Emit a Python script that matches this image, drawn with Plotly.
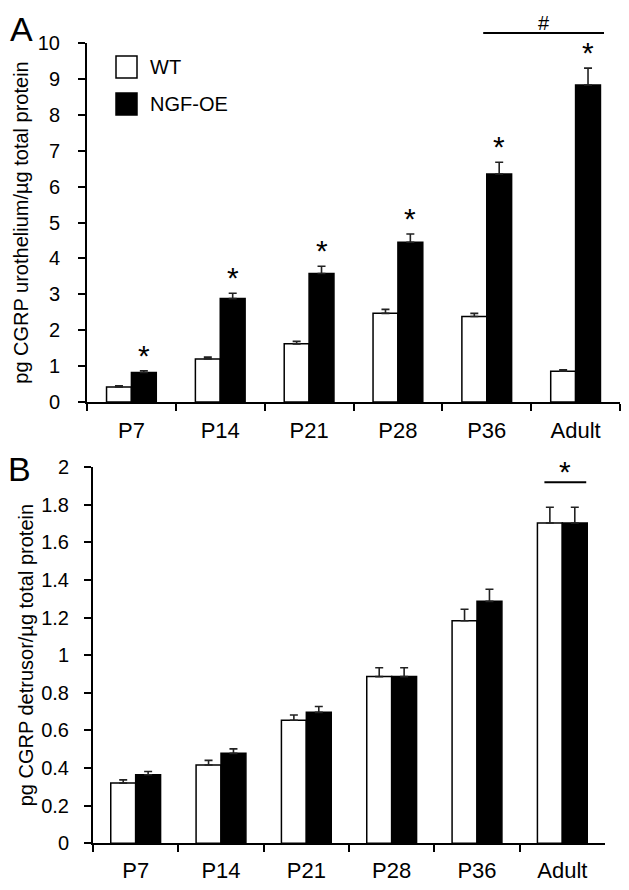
import plotly.graph_objects as go

categories = ["P7", "P14", "P21", "P28", "P36", "Adult"]

# Panel A: pg CGRP urothelium / ug total protein
wt_A = [0.42, 1.20, 1.62, 2.47, 2.38, 0.86]
wt_A_err = [0.03, 0.05, 0.07, 0.11, 0.09, 0.04]
ngf_A = [0.82, 2.88, 3.58, 4.45, 6.35, 8.83]
ngf_A_err = [0.05, 0.15, 0.20, 0.23, 0.33, 0.47]
star_A = [True, True, True, True, True, True]

# Panel B: pg CGRP detrusor / ug total protein
wt_B = [0.32, 0.416, 0.654, 0.886, 1.183, 1.702]
wt_B_err = [0.017, 0.025, 0.028, 0.047, 0.061, 0.084]
ngf_B = [0.364, 0.478, 0.696, 0.886, 1.286, 1.702]
ngf_B_err = [0.018, 0.024, 0.031, 0.047, 0.064, 0.084]

FONT = "Liberation Sans, Arial, Helvetica, sans-serif"
# page has an 8px body margin; size the figure so the page fits the window exactly
OX, OY = 8, 8
W, H = 629 - 2 * OX, 890 - 2 * OY


def px_x(p):
    return (p - OX) / W


def px_y(p):
    return 1 - (p - OY) / H


fig = go.Figure()


def add_pair(wt, wte, ngf, ngfe, bw, xa, ya):
    fig.add_trace(go.Bar(
        x=categories, y=wt, name="WT", width=bw, offset=-bw,
        marker=dict(color="white", line=dict(color="black", width=1.5)),
        error_y=dict(type="data", symmetric=False, array=wte, arrayminus=[0] * len(wte),
                     color="#222", thickness=1.6, width=4),
        xaxis=xa, yaxis=ya, showlegend=False))
    fig.add_trace(go.Bar(
        x=categories, y=ngf, name="NGF-OE", width=bw, offset=0,
        marker=dict(color="black", line=dict(color="black", width=1.5)),
        error_y=dict(type="data", symmetric=False, array=ngfe, arrayminus=[0] * len(ngfe),
                     color="#222", thickness=1.6, width=4),
        xaxis=xa, yaxis=ya, showlegend=False))


bwA = 0.28
bwB = 0.292
add_pair(wt_A, wt_A_err, ngf_A, ngf_A_err, bwA, "x", "y")
add_pair(wt_B, wt_B_err, ngf_B, ngf_B_err, bwB, "x2", "y2")

xdomA = [px_x(87), px_x(620)]
ydomA = [px_y(402), px_y(43)]
xdomB = [px_x(93), px_x(605)]
ydomB = [px_y(843.3), px_y(467)]

common_x = dict(type="category", range=[-0.5, 5.5], tickson="boundaries", ticks="outside",
                ticklen=7, tickwidth=1.5, tickcolor="black", showline=True, linewidth=2,
                linecolor="black", showgrid=False, zeroline=False, automargin=False,
                tickfont=dict(family=FONT, size=22, color="black"))
common_y = dict(ticks="outside", ticklen=7, tickwidth=1.5, tickcolor="black", showline=True,
                linewidth=2, linecolor="black", showgrid=False, zeroline=False, automargin=False,
                tickfont=dict(family=FONT, size=20, color="black"))

fig.update_layout(
    template="none",
    width=W, height=H,
    margin=dict(l=0, r=0, t=0, b=0, pad=0),
    paper_bgcolor="white", plot_bgcolor="white",
    showlegend=False,
    font=dict(family=FONT, color="black"),
    xaxis=dict(domain=xdomA, anchor="y", ticklabelstandoff=8, **common_x),
    yaxis=dict(domain=ydomA, anchor="x", range=[0, 10], dtick=1, ticklabelstandoff=14,
               title=dict(text="pg CGRP urothelium/µg total protein",
                          font=dict(family=FONT, size=20, color="black"), standoff=4),
               **common_y),
    xaxis2=dict(domain=xdomB, anchor="y2", ticklabelstandoff=6, **common_x),
    yaxis2=dict(domain=ydomB, anchor="x2", range=[0, 2], dtick=0.2, ticklabelstandoff=11,
                title=dict(text="pg CGRP detrusor/µg total protein",
                           font=dict(family=FONT, size=20, color="black"), standoff=2),
                **common_y),
)

annotations = []
shapes = []

# stars over NGF-OE bars in panel A
for i, s in enumerate(star_A):
    if s:
        annotations.append(dict(x=i + bwA / 2, y=ngf_A[i] + ngf_A_err[i], xref="x", yref="y",
                                text="*", showarrow=False, yanchor="bottom", yshift=-3,
                                font=dict(family=FONT, size=30, color="black")))

# "#" bracket in panel A
shapes.append(dict(type="line", xref="x", yref="paper", x0=3.96, x1=5.32,
                   y0=px_y(33), y1=px_y(33), line=dict(color="black", width=2)))
annotations.append(dict(x=(3.96 + 5.32) / 2, y=px_y(33), xref="x", yref="paper", text="#",
                        showarrow=False, yanchor="bottom", yshift=-3,
                        font=dict(family=FONT, size=20, color="black")))

# panel B significance line over Adult
shapes.append(dict(type="line", xref="x2", yref="y2", x0=4.79, x1=5.28, y0=1.919, y1=1.919,
                   line=dict(color="black", width=2)))
annotations.append(dict(x=5.03, y=1.919, xref="x2", yref="y2", text="*", showarrow=False,
                        yanchor="bottom", yshift=-8,
                        font=dict(family=FONT, size=30, color="black")))

# legend (drawn manually)
shapes.append(dict(type="rect", xref="paper", yref="paper", x0=px_x(116), x1=px_x(137),
                   y0=px_y(78), y1=px_y(56), fillcolor="white", line=dict(color="black", width=1.5)))
shapes.append(dict(type="rect", xref="paper", yref="paper", x0=px_x(116), x1=px_x(137),
                   y0=px_y(115), y1=px_y(93), fillcolor="black", line=dict(color="black", width=1.5)))
annotations.append(dict(x=px_x(148), y=px_y(67), xref="paper", yref="paper", text="WT",
                        showarrow=False, xanchor="left", yanchor="middle",
                        font=dict(family=FONT, size=20, color="black")))
annotations.append(dict(x=px_x(148), y=px_y(104), xref="paper", yref="paper", text="NGF-OE",
                        showarrow=False, xanchor="left", yanchor="middle",
                        font=dict(family=FONT, size=20, color="black")))

# panel letters
annotations.append(dict(x=px_x(21), y=1, xref="paper", yref="paper", text="A",
                        showarrow=False, xanchor="center", yanchor="top", yshift=0,
                        font=dict(family=FONT, size=34, color="black")))
annotations.append(dict(x=px_x(20), y=px_y(469), xref="paper", yref="paper", text="B",
                        showarrow=False, xanchor="center", yanchor="middle",
                        font=dict(family=FONT, size=34, color="black")))

fig.update_layout(annotations=annotations, shapes=shapes)

fig.write_html("out.html")
